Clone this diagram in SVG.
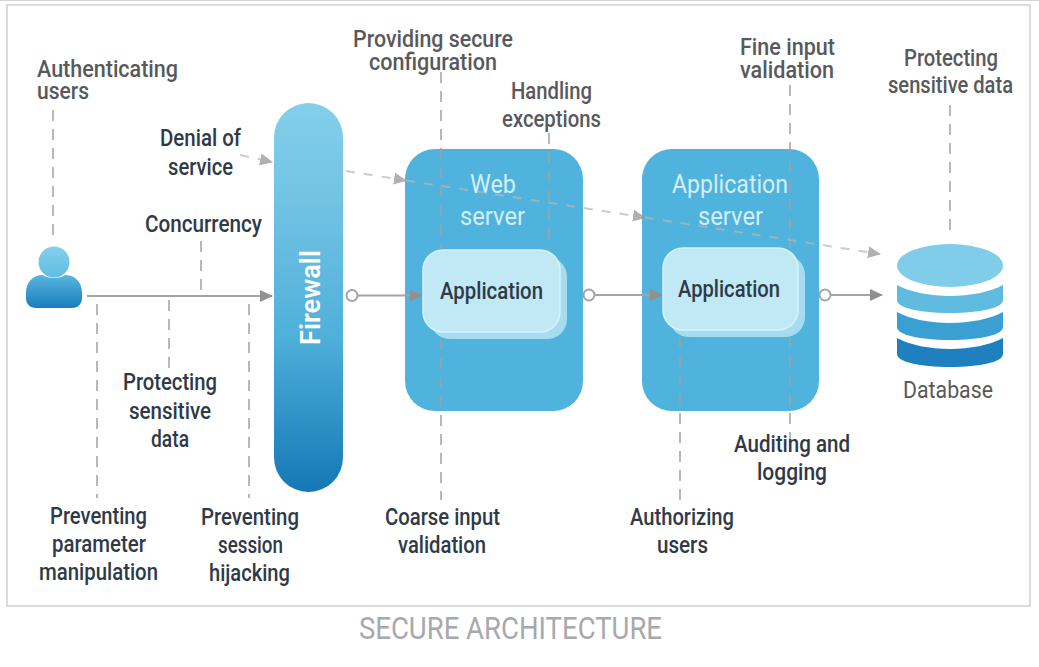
<svg xmlns="http://www.w3.org/2000/svg" width="1039" height="667" viewBox="0 0 1039 667">
<style>
text{font-family:Roboto,"Liberation Sans",sans-serif;font-size:24px;fill:#58595b;font-weight:500}
.dk{fill:#2f3a48}
.lt{fill:#d4eef8;font-weight:400;font-size:25px}
.ln{fill:none;stroke:#a3a3a3;stroke-width:2}
.ds{fill:none;stroke:#a0a0a0;stroke-width:2;stroke-dasharray:11 8;opacity:.75}
.dp{fill:none;stroke:#b8b6b6;stroke-width:2;stroke-dasharray:9 9;opacity:.7}
.dot{fill:#fff;stroke:#a3a3a3;stroke-width:2}
.srv{fill:#4fb3de}
.back{fill:#a5dcf0}
.front{fill:#c0e8f5;stroke:#d8f2fa;stroke-width:1.5}
</style>
<defs>
<linearGradient id="fw" x1="0" y1="0" x2="0" y2="1"><stop offset="0" stop-color="#83cfeb"/><stop offset=".25" stop-color="#72c3e4"/><stop offset=".6" stop-color="#4fb0da"/><stop offset="1" stop-color="#1577b5"/></linearGradient>
<linearGradient id="hd" x1="0" y1="0" x2="0" y2="1"><stop offset="0" stop-color="#85d0ec"/><stop offset="1" stop-color="#5fbde2"/></linearGradient>
<linearGradient id="bd" x1="0" y1="0" x2="0" y2="1"><stop offset="0" stop-color="#58b6de"/><stop offset="1" stop-color="#1a7dbc"/></linearGradient>
<marker id="ah" markerUnits="userSpaceOnUse" markerWidth="14" markerHeight="14" refX="12" refY="7" orient="auto"><path d="M0 1L13 7L0 13Z" fill="#948f8f"/></marker>
</defs>
<rect x="0" y="0" width="1039" height="667" fill="#fff"/>
<path d="M0 .5H1039" stroke="#d4d4d4" fill="none"/>
<rect x="7" y="5" width="1023" height="601" fill="#fff" stroke="#cfcfcf" stroke-width="1.5"/>

<g id="user">
<circle cx="54" cy="262" r="15.500" fill="url(#hd)"/>
<path d="M26 298V293C26 282 33 275 43 275C47 279 61 279 65 275C75 275 82 282 82 293V298C82 304 78 308 72 308H36C30 308 26 304 26 298Z" fill="url(#bd)"/>
</g>

<g id="firewall">
<rect x="274" y="103" width="69" height="389" rx="34.500" fill="url(#fw)"/>
<text transform="translate(320 345) rotate(-90)" textLength="95" lengthAdjust="spacingAndGlyphs" style="fill:#fff;font-weight:600;font-size:27px">Firewall</text>
</g>

<g id="web-server">
<rect class="srv" x="405" y="149" width="178" height="262" rx="30"/>
<text class="lt" x="470" y="193" textLength="46" lengthAdjust="spacingAndGlyphs">Web</text>
<text class="lt" x="460" y="225" textLength="65" lengthAdjust="spacingAndGlyphs">server</text>
</g>

<g id="application-server">
<rect class="srv" x="642" y="149" width="177" height="262" rx="30"/>
<text class="lt" x="672" y="193" textLength="116" lengthAdjust="spacingAndGlyphs">Application</text>
<text class="lt" x="698" y="225" textLength="65" lengthAdjust="spacingAndGlyphs">server</text>
</g>

<g id="connectors">
<path class="ds" d="M53 110V236"/>
<path class="ds" d="M201 241V292"/>
<path class="ds" d="M97 304V498"/>
<path class="ds" d="M169 300V372"/>
<path class="ds" d="M249 304V498"/>
<path class="ds" d="M441 72V250M441 339V500"/>
<path class="ds" d="M549 133V250"/>
<path class="ds" d="M790 85V248M790 337V440"/>
<path class="ds" d="M680 337V505"/>
<path class="ds" d="M950 105V235"/>
<path class="dp" d="M240 155L272 162" marker-end="url(#ah)"/>
<path class="dp" d="M346 171L406 180.500" marker-end="url(#ah)"/>
<path class="dp" d="M406 180.500L645 217.500" marker-end="url(#ah)"/>
<path class="dp" d="M645 217.500L880 254" marker-end="url(#ah)"/>
<path class="ln" d="M87 296H272" marker-end="url(#ah)"/>
<path class="ln" d="M358 295.500H422" marker-end="url(#ah)"/>
<path class="ln" d="M595 295H662" marker-end="url(#ah)"/>
<path class="ln" d="M831 295H882" marker-end="url(#ah)"/>
<circle class="dot" cx="352" cy="295.500" r="5.500"/>
<circle class="dot" cx="589" cy="295" r="5.500"/>
<circle class="dot" cx="825" cy="295" r="5.500"/>
</g>

<g id="web-application">
<rect class="back" x="430" y="257" width="137" height="82" rx="20"/>
<rect class="front" x="423" y="250" width="137" height="82" rx="20"/>
<text class="dk" x="440" y="299" textLength="103" lengthAdjust="spacingAndGlyphs">Application</text>
</g>

<g id="server-application">
<rect class="back" x="669" y="255" width="136" height="82" rx="20"/>
<rect class="front" x="663" y="248" width="135" height="82" rx="20"/>
<text class="dk" x="678" y="297" textLength="102" lengthAdjust="spacingAndGlyphs">Application</text>
</g>

<g id="database">
<path d="M897 338C910 345 930 349 950 349C970 349 990 345 1003 338V354C1003 362 980 367 950 367C920 367 897 362 897 354Z" fill="#1f80bf"/>
<path d="M897 312C910 319 930 323 950 323C970 323 990 319 1003 312V327C1003 335 980 340 950 340C920 340 897 335 897 327Z" fill="#3a9fd2"/>
<path d="M897 285C910 292 930 296 950 296C970 296 990 292 1003 285V300C1003 308 980 313 950 313C920 313 897 308 897 300Z" fill="#5fbbe0"/>
<ellipse cx="950" cy="265.500" rx="53" ry="21.500" fill="#80cdea"/>
<text x="903" y="398" textLength="90" lengthAdjust="spacingAndGlyphs" style="font-weight:400">Database</text>
</g>

<g id="labels">
<text><tspan x="37" y="77" textLength="141" lengthAdjust="spacingAndGlyphs">Authenticating</tspan><tspan x="37" y="99" textLength="52" lengthAdjust="spacingAndGlyphs">users</tspan></text>
<text><tspan x="353" y="47" textLength="160" lengthAdjust="spacingAndGlyphs">Providing secure</tspan><tspan x="369" y="70" textLength="128" lengthAdjust="spacingAndGlyphs">configuration</tspan></text>
<text x="511" y="99" textLength="81" lengthAdjust="spacingAndGlyphs">Handling</text>
<text x="502" y="127" textLength="99" lengthAdjust="spacingAndGlyphs">exceptions</text>
<text><tspan x="740" y="55" textLength="95" lengthAdjust="spacingAndGlyphs">Fine input</tspan><tspan x="740" y="78" textLength="94" lengthAdjust="spacingAndGlyphs">validation</tspan></text>
<text x="904" y="66" textLength="94" lengthAdjust="spacingAndGlyphs">Protecting</text>
<text x="888" y="93" textLength="125" lengthAdjust="spacingAndGlyphs">sensitive data</text>
<text class="dk" x="160" y="146" textLength="81" lengthAdjust="spacingAndGlyphs">Denial of</text>
<text class="dk" x="168" y="175" textLength="65" lengthAdjust="spacingAndGlyphs">service</text>
<text class="dk" x="145" y="232" textLength="117" lengthAdjust="spacingAndGlyphs">Concurrency</text>
<text class="dk" x="123" y="390" textLength="94" lengthAdjust="spacingAndGlyphs">Protecting</text>
<text class="dk" x="129" y="419" textLength="82" lengthAdjust="spacingAndGlyphs">sensitive</text>
<text class="dk" x="151" y="447" textLength="38" lengthAdjust="spacingAndGlyphs">data</text>
<text class="dk" x="50" y="524" textLength="97" lengthAdjust="spacingAndGlyphs">Preventing</text>
<text class="dk" x="52" y="552" textLength="94" lengthAdjust="spacingAndGlyphs">parameter</text>
<text class="dk" x="39" y="580" textLength="119" lengthAdjust="spacingAndGlyphs">manipulation</text>
<text class="dk" x="201" y="525" textLength="98" lengthAdjust="spacingAndGlyphs">Preventing</text>
<text class="dk" x="218" y="553" textLength="65" lengthAdjust="spacingAndGlyphs">session</text>
<text class="dk" x="209" y="581" textLength="81" lengthAdjust="spacingAndGlyphs">hijacking</text>
<text class="dk" x="385" y="525" textLength="115" lengthAdjust="spacingAndGlyphs">Coarse input</text>
<text class="dk" x="398" y="553" textLength="88" lengthAdjust="spacingAndGlyphs">validation</text>
<text class="dk" x="630" y="525" textLength="104" lengthAdjust="spacingAndGlyphs">Authorizing</text>
<text class="dk" x="657" y="553" textLength="51" lengthAdjust="spacingAndGlyphs">users</text>
<text class="dk" x="734" y="452" textLength="116" lengthAdjust="spacingAndGlyphs">Auditing and</text>
<text class="dk" x="757" y="480" textLength="70" lengthAdjust="spacingAndGlyphs">logging</text>
<text x="359" y="639" textLength="303" lengthAdjust="spacingAndGlyphs" style="font-size:31px;fill:#a7a9ac;font-weight:400">SECURE ARCHITECTURE</text>
</g>
</svg>
